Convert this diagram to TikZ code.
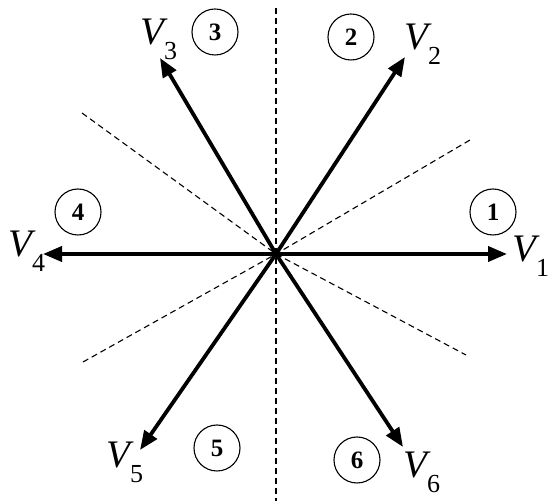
\documentclass[tikz,border=0pt]{standalone}
\usepackage{fontspec}
\setmainfont{Liberation Serif}
\usetikzlibrary{arrows.meta}
\tikzset{
  vec/.style={line width=3.8pt,-{Triangle[length=19pt,width=15pt]}},
  sector/.style={line width=1.1pt,dash pattern=on 6pt off 4pt},
  num/.style={draw,circle,line width=1.1pt,minimum size=46pt,inner sep=0pt,font=\fontsize{25}{25}\selectfont\bfseries},
  vlab/.style={anchor=base west,inner sep=0pt}
}
\newcommand{\vname}[1]{{\fontsize{39}{39}\selectfont\itshape V}\kern0pt\raisebox{-15pt}{\fontsize{26}{26}\selectfont #1}}
\begin{document}
\begin{tikzpicture}[x=1pt,y=1pt]
\useasboundingbox (0,0) rectangle (550,501);
\coordinate (O) at (276,247);
% sector boundaries
\coordinate (d1) at (276,493);
\coordinate (d2) at (276,0);
\coordinate (d3) at (82,388);
\coordinate (d4) at (466,146);
\coordinate (d5) at (83,139);
\coordinate (d6) at (470,361);
\draw[sector] (d1) -- (d2);
\draw[sector] (d3) -- (O) -- (d4);
\draw[sector] (d5) -- (O) -- (d6);
% vectors
\coordinate (t1) at (507,247);
\coordinate (t2) at (405,444);
\coordinate (t3) at (160,443);
\coordinate (t4) at (43,247);
\coordinate (t5) at (140,51);
\coordinate (t6) at (403,54);
\draw[vec] (O) -- (t1);
\draw[vec] (O) -- (t2);
\draw[vec] (O) -- (t3);
\draw[vec] (O) -- (t4);
\draw[vec] (O) -- (t5);
\draw[vec] (O) -- (t6);
% labels
\node[vlab] (L1) at (512,239) {\vname{1}};
\node[vlab] (L2) at (404,451) {\vname{2}};
\node[vlab] (L3) at (140,456) {\vname{3}};
\node[vlab] (L4) at (8,244) {\vname{4}};
\node[vlab] (L5) at (106,33) {\vname{5}};
\node[vlab] (L6) at (403,23) {\vname{6}};
% sector numbers
\node[num] (n1) at (493,289) {1};
\node[num] (n2) at (351,464) {2};
\node[num] (n3) at (215,469) {3};
\node[num] (n4) at (78,289) {4};
\node[num] (n5) at (217,53) {5};
\node[num] (n6) at (357,41) {6};
\end{tikzpicture}
\end{document}
